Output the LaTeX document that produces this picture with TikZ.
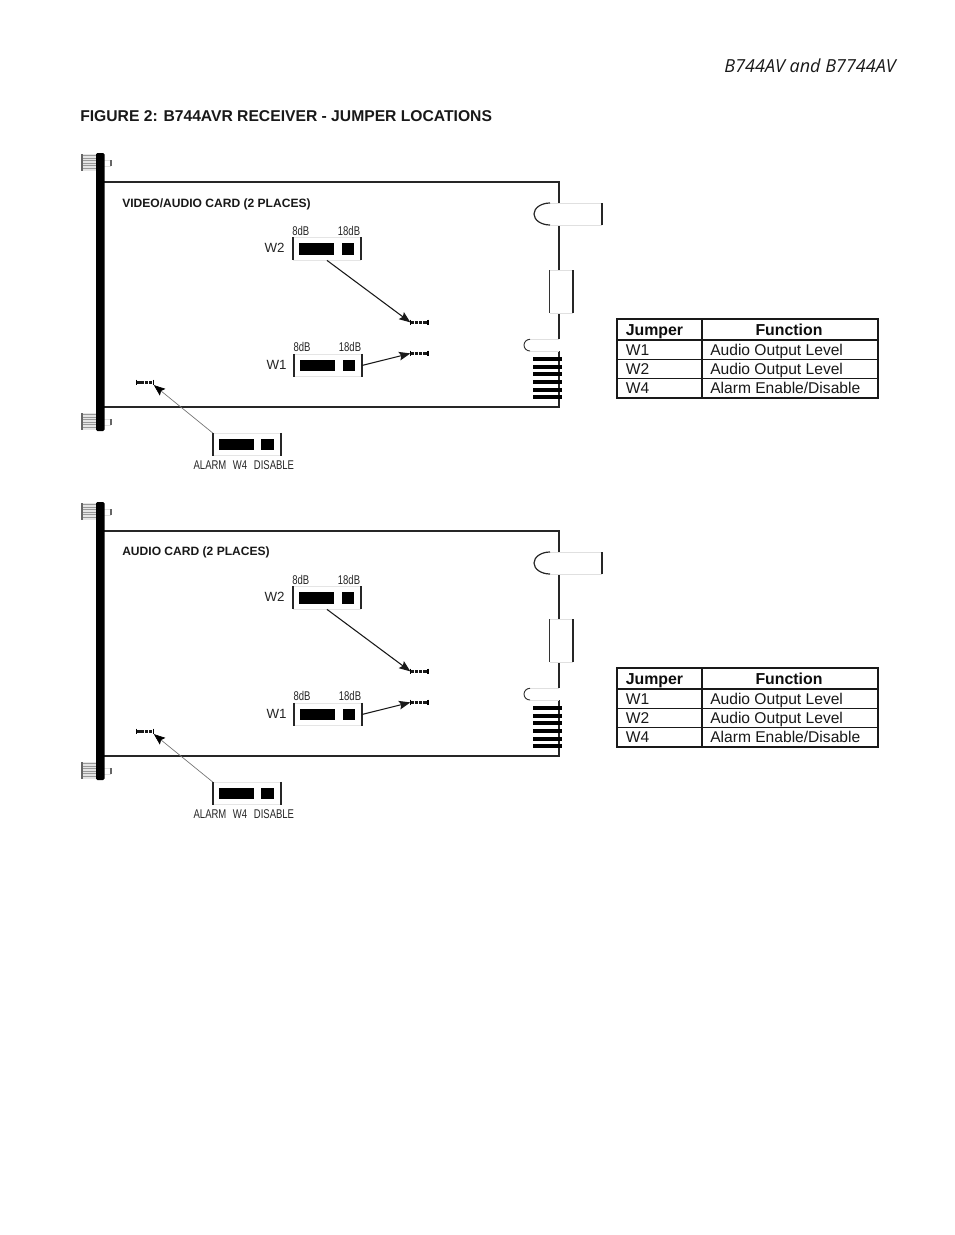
\documentclass[tikz,border=0pt]{standalone}
\usepackage{fontspec}
\setmainfont{Liberation Sans}
\newfontfamily\narrowfont[FakeStretch=0.75]{Liberation Sans}
\newfontfamily\headfont{Open Sans}
\usetikzlibrary{arrows.meta}
\tikzset{
  outline/.style={line width=1.3pt,draw=black!85},
  faint/.style={line width=0.5pt,draw=black!12},
  tick/.style={line width=1.3pt,draw=black!85},
  jbar/.style={fill=black,draw=none},
  jbox/.style={draw=black!10,line width=0.5pt,minimum width=50.6pt,minimum height=16.9pt,inner sep=0pt},
  jpin/.style={minimum width=12.8pt,minimum height=3.6pt,inner sep=0pt},
  jtxt/.style={font=\narrowfont\fontsize{9.5pt}{10pt}\selectfont,inner sep=0pt,text=black!85},
  wtxt/.style={font=\fontsize{10pt}{11pt}\selectfont,inner sep=0pt,text=black!85},
  cardtitle/.style={font=\bfseries\fontsize{9.05pt}{10pt}\selectfont,inner sep=0pt,anchor=west,text=black!90},
  celltxt/.style={font=\fontsize{11.7pt}{13pt}\selectfont,inner sep=0pt,anchor=base west,text=black!90},
  cellhead/.style={font=\bfseries\fontsize{11.9pt}{13pt}\selectfont,inner sep=0pt,anchor=base,text=black!95},
  jarrow/.style={line width=0.8pt,draw=black!90,-{Stealth[length=8.5pt,width=6.5pt,inset=1.5pt]}},
  grayarrow/.style={line width=0.5pt,draw=black!55,-{Stealth[length=8.5pt,width=6.5pt,inset=1.5pt,fill=black,color=black]}},
}
\newcommand{\jumperpin}[3]{%
  \node[jpin] (#1) at (#2,#3) {};
  \draw[line width=1.9pt,draw=black!90,dash pattern=on 2.6pt off 0.6pt] (#1.west) -- (#1.east);
  \draw[line width=0.9pt,draw=black] (#1.north west) -- (#1.south west);
  \draw[line width=0.9pt,draw=black] (#1.north east) -- (#1.south east);
}
\newcommand{\jumperbox}[3]{%
  \node[jbox] (#1) at (#2,#3) {};
  \draw[tick] (#1.north west) -- (#1.south west);
  \draw[tick] (#1.north east) -- (#1.south east);
  \fill[jbar] (#2-27.7,#3-5.8) rectangle (#2+7.3,#3+5.8);
  \fill[jbar] (#2+14.7,#3-5.8) rectangle (#2+27.2,#3+5.8);
}
\newcommand{\screw}[2]{%
  \fill[black!10] (82,#2) rectangle (96,#2+17);
  \foreach \yy in {1.5,4,...,16}{\draw[line width=0.4pt,draw=black!40] (82,#2+\yy) -- (96,#2+\yy);}
  \draw[line width=0.8pt,draw=black!60] (82,#2) -- (82,#2+17);
  \draw[faint] (104,#2+6) -- (111,#2+6) (104,#2+12) -- (111,#2+12);
  \draw[line width=0.8pt,draw=black!60] (111,#2+6) -- (111,#2+12);
}
\newcommand{\cardunit}[3]{%
\begin{scope}[shift={(0,#2)}]
  % outline
  \draw[outline] (104,182) -- (559,182) -- (559,203);
  \draw[outline] (559,225) -- (559,270);
  \draw[outline] (559,313) -- (559,339.3);
  \draw[outline] (559,351) -- (559,407) -- (104,407);
  % front panel and screws
  \screw{#1a}{154}
  \screw{#1b}{413}
  \fill[black,rounded corners=1pt] (96,153) rectangle (104.5,431);
  % handle
  \draw[faint] (550,203) -- (602,203) (550,225) -- (602,225);
  \draw[tick] (602,203) -- (602,225);
  \draw[line width=0.9pt,draw=black!85] (550,203) arc[start angle=270,end angle=90,x radius=16,y radius=11];
  % connector block
  \draw[faint] (549.7,270) -- (573,270) (549.7,313) -- (573,313);
  \draw[line width=0.8pt,draw=black!80] (549.7,270) -- (549.7,313);
  \draw[tick] (573,270) -- (573,313);
  % small latch
  \draw[faint] (530,339.3) -- (559,339.3) (530,351) -- (559,351);
  \draw[line width=0.7pt,draw=black!80] (530,339.3) arc[start angle=270,end angle=90,x radius=6,y radius=5.85];
  % edge connector bars
  \foreach \yy in {359,366.7,374.3,382,389.5,397}{\fill[black] (532.7,\yy-2) rectangle (561.5,\yy+2);}
  % title
  \node[cardtitle] (#1title) at (122,204.5-#3) {\cardname};
  % jumpers
  \jumperbox{#1w2}{327}{248.8}
  \jumperbox{#1w1}{327.8}{365.5}
  \jumperbox{#1w4}{246.7}{444.5}
  \jumperpin{#1p2}{419.2}{322.4}
  \jumperpin{#1p1}{419.2}{353.4}
  \jumperpin{#1p4}{145}{382.4}
  % jumper labels
  \node[jtxt] (#1a8) at (300.8,230.5) {8dB};
  \node[jtxt] (#1a18) at (349,230.5) {18dB};
  \node[jtxt] (#1b8) at (302,347) {8dB};
  \node[jtxt] (#1b18) at (350,347) {18dB};
  \node[wtxt] (#1lw2) at (274.5,248) {W2};
  \node[wtxt] (#1lw1) at (276.5,365) {W1};
  \node[jtxt] (#1la) at (210,465.5) {ALARM};
  \node[jtxt] (#1lb) at (240,465.5) {W4};
  \node[jtxt] (#1lc) at (274,465.5) {DISABLE};
  % arrows
  \draw[jarrow] (#1w2.south) -- (#1p2.west);
  \draw[jarrow] (#1w1.east) -- (#1p1.west);
  \draw[grayarrow] (#1w4.north west) -- (#1p4.south east);
  % table
  \draw[line width=1.5pt,draw=black!90] (616.7,319.3) rectangle (877.7,397.7);
  \draw[line width=1.5pt,draw=black!90] (701.7,319.3) -- (701.7,397.7);
  \draw[line width=1.4pt,draw=black!90] (616.7,340) -- (877.7,340);
  \draw[line width=0.8pt,draw=black!90] (616.7,359.3) -- (877.7,359.3);
  \draw[line width=0.8pt,draw=black!90] (616.7,378.3) -- (877.7,378.3);
  \node[cellhead,anchor=base west] (#1th1) at (625.5,335) {Jumper};
  \node[cellhead] (#1th2) at (789,335) {Function};
  \node[celltxt] (#1c11) at (625.5,355.5) {W1};
  \node[celltxt] (#1c12) at (710,355.5) {Audio Output Level};
  \node[celltxt] (#1c21) at (625.5,374) {W2};
  \node[celltxt] (#1c22) at (710,374) {Audio Output Level};
  \node[celltxt] (#1c31) at (625.5,393) {W4};
  \node[celltxt] (#1c32) at (710,393) {Alarm Enable/Disable};
\end{scope}}
\begin{document}
\begin{tikzpicture}[x=0.75pt,y=-0.75pt]
  \fill[white] (0,0) rectangle (954,1235);
  \useasboundingbox (0,0) rectangle (954,1235);
  \node[font=\headfont\itshape\fontsize{13.5pt}{15pt}\selectfont,inner sep=0pt,anchor=east,text=black!90] (head) at (896,66) {B744AV and B7744AV};
  \node[font=\bfseries\fontsize{11.75pt}{13pt}\selectfont,inner sep=0pt,anchor=west,text=black!90] (figtitle) at (80,116) {FIGURE 2: B744AVR RECEIVER - JUMPER LOCATIONS};
  \def\cardname{VIDEO/AUDIO CARD (2 PLACES)}
  \cardunit{u}{0}{0}
  \def\cardname{AUDIO CARD (2 PLACES)}
  \cardunit{v}{349}{1}
\end{tikzpicture}
\end{document}
